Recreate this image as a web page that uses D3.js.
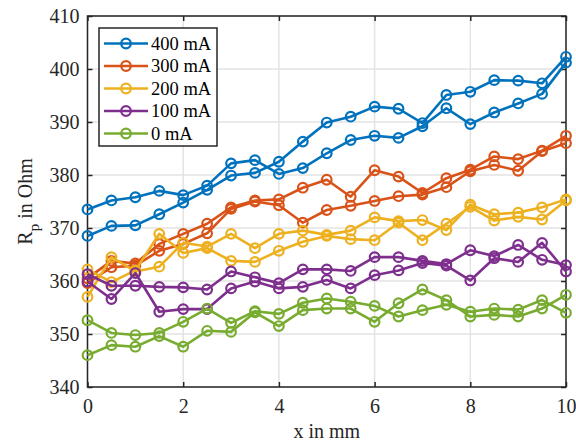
<!DOCTYPE html>
<html lang="en">
<head>
    <meta charset="UTF-8">
    <title>Rp over x</title>
    <script src="https://cdn.jsdelivr.net/npm/d3@7"></script>
</head>
<style>
    body {
        margin: 0;
        background: #fff;
    }
    .ticklabel {
        font: 20px 'Liberation Serif';
        fill: #262626;
    }
    .axlabel {
        font: 20px 'Liberation Serif';
        fill: #262626;
    }
    .legtext {
        font: 18.5px 'Liberation Serif';
        fill: #000;
    }
</style>
<body>
<div id="my_dataviz"></div>

<script>
    // x positions in mm
    var xs = [0, 0.5, 1, 1.5, 2, 2.5, 3, 3.5, 4, 4.5, 5, 5.5, 6, 6.5, 7, 7.5, 8, 8.5, 9, 9.5, 10];

    // two measurement runs per current
    var r400a = [368.5, 370.4, 370.5, 372.6, 374.8, 377.2, 379.9, 380.4, 382.5, 386.3, 389.9, 391.0, 392.9, 392.5, 389.8, 395.1, 395.7, 397.9, 397.8, 397.3, 402.3];
    var r400b = [373.5, 375.2, 375.8, 377.0, 376.2, 378.0, 382.2, 382.8, 380.2, 381.3, 384.1, 386.6, 387.4, 387.0, 389.2, 392.6, 389.6, 391.8, 393.5, 395.3, 401.2];
    var r300a = [360.5, 363.8, 363.3, 367.0, 368.9, 370.8, 373.9, 375.2, 375.4, 377.6, 379.1, 375.9, 380.9, 379.7, 376.6, 379.4, 381.0, 383.5, 383.0, 384.6, 387.4];
    var r300b = [359.6, 362.6, 362.9, 365.7, 367.0, 369.0, 373.6, 375.0, 374.3, 371.0, 373.4, 374.2, 375.1, 376.0, 376.3, 377.7, 380.7, 381.9, 380.8, 384.5, 386.0];
    var r200a = [357.0, 364.5, 361.8, 362.7, 367.2, 366.5, 368.9, 366.2, 368.9, 369.5, 368.7, 369.5, 372.0, 371.3, 371.5, 369.6, 374.4, 372.6, 372.9, 373.9, 375.4];
    var r200b = [362.2, 359.8, 362.0, 368.9, 365.3, 366.2, 363.8, 363.6, 365.7, 367.4, 368.5, 367.9, 367.7, 371.0, 367.7, 370.8, 374.0, 371.4, 372.1, 371.6, 375.2];
    var r100a = [361.3, 359.1, 359.1, 358.9, 358.8, 358.4, 361.8, 360.7, 359.6, 362.2, 362.2, 361.9, 364.5, 364.5, 363.8, 363.2, 365.8, 364.7, 366.8, 364.0, 363.0];
    var r100b = [359.9, 356.6, 361.5, 354.2, 354.7, 354.7, 358.6, 359.9, 358.6, 358.9, 360.2, 358.6, 361.1, 362.0, 363.4, 362.9, 360.1, 364.3, 363.6, 367.2, 361.8];
    var r0a   = [352.6, 350.2, 349.8, 350.2, 352.3, 354.8, 352.1, 354.3, 353.8, 355.9, 356.7, 356.1, 355.3, 353.3, 354.5, 355.5, 354.2, 354.8, 354.6, 356.4, 354.0];
    var r0b   = [346.0, 347.9, 347.6, 349.6, 347.6, 350.6, 350.4, 354.1, 351.5, 354.5, 354.8, 354.8, 352.3, 355.8, 358.4, 356.4, 353.3, 353.6, 353.3, 354.8, 357.4];

    var legend_labels = ["400 mA", "300 mA", "200 mA", "100 mA", "0 mA"];
    var runs = [[r400a, r400b], [r300a, r300b], [r200a, r200b], [r100a, r100b], [r0a, r0b]];
    var xTicks = [0, 2, 4, 6, 8, 10];
    var yTicks = [340, 350, 360, 370, 380, 390, 400, 410];

    // matlab default colour order
    var colors = ["#0072BD", "#D95319", "#EDB120", "#7E2F8E", "#77AC30"];

    var W = 576, H = 444;
    var pl = 87.5, pr = 566, pt = 16, pb = 387;
    var lw = 2.6, mr = 4.8, mw = 2.2;

    var svg = d3.select("#my_dataviz")
        .append("svg")
        .attr("width", W)
        .attr("height", H);

    var x = d3.scaleLinear().domain([0, 10]).range([pl, pr]);
    var y = d3.scaleLinear().domain([340, 410]).range([pb, pt]);

    // grid
    svg.append("g")
        .selectAll("line")
        .data(xTicks)
        .enter()
        .append("line")
        .attr("x1", d => x(d)).attr("x2", d => x(d))
        .attr("y1", pt).attr("y2", pb)
        .style("stroke", "#e3e3e3")
        .style("stroke-width", 1.5);
    svg.append("g")
        .selectAll("line")
        .data(yTicks)
        .enter()
        .append("line")
        .attr("x1", pl).attr("x2", pr)
        .attr("y1", d => y(d)).attr("y2", d => y(d))
        .style("stroke", "#e3e3e3")
        .style("stroke-width", 1.5);

    // axes, ticks inward on all four sides
    var axisStyle = function(g) {
        g.select(".domain").remove();
        g.selectAll(".tick line").style("stroke", "#262626").style("stroke-width", 1.5);
        g.selectAll(".tick text").attr("class", "ticklabel").attr("fill", null);
    };
    svg.append("g")
        .attr("transform", "translate(0," + pb + ")")
        .call(d3.axisBottom(x).tickValues(xTicks).tickSize(-5).tickPadding(12))
        .call(axisStyle);
    svg.append("g")
        .attr("transform", "translate(0," + pt + ")")
        .call(d3.axisTop(x).tickValues(xTicks).tickSize(-5).tickFormat(""))
        .call(axisStyle);
    svg.append("g")
        .attr("transform", "translate(" + pl + ",0)")
        .call(d3.axisLeft(y).tickValues(yTicks).tickSize(-5).tickPadding(8))
        .call(axisStyle);
    svg.append("g")
        .attr("transform", "translate(" + pr + ",0)")
        .call(d3.axisRight(y).tickValues(yTicks).tickSize(-5).tickFormat(""))
        .call(axisStyle);

    svg.append("rect")
        .attr("x", pl).attr("y", pt)
        .attr("width", pr - pl).attr("height", pb - pt)
        .style("fill", "none")
        .style("stroke", "#262626")
        .style("stroke-width", 1.5);

    // lines with open circles
    var line = d3.line()
        .x((d, i) => x(xs[i]))
        .y(d => y(d));

    runs.forEach(function(pair, k) {
        pair.forEach(function(vals) {
            var g = svg.append("g");
            g.append("path")
                .attr("d", line(vals))
                .style("fill", "none")
                .style("stroke", colors[k])
                .style("stroke-width", lw)
                .style("stroke-linejoin", "round");
            g.selectAll("circle")
                .data(vals)
                .enter()
                .append("circle")
                .attr("cx", (d, i) => x(xs[i]))
                .attr("cy", d => y(d))
                .attr("r", mr)
                .style("fill", "none")
                .style("stroke", colors[k])
                .style("stroke-width", mw);
        });
    });

    // axis labels
    svg.append("text")
        .attr("x", (pl + pr) / 2)
        .attr("y", 438)
        .style("text-anchor", "middle")
        .attr("class", "axlabel")
        .text("x in mm");

    var ylab = svg.append("text")
        .attr("transform", "translate(32," + ((pt + pb) / 2) + ") rotate(-90)")
        .style("text-anchor", "middle")
        .attr("class", "axlabel");
    ylab.append("tspan").text("R");
    ylab.append("tspan").attr("dy", 7).style("font-size", "15px").text("p");
    ylab.append("tspan").attr("dy", -7).text(" in Ohm");

    // legend
    var legend = svg.append("g").attr("transform", "translate(99,28)");
    legend.append("rect")
        .attr("width", 118).attr("height", 118)
        .style("fill", "#fff")
        .style("stroke", "#262626")
        .style("stroke-width", 1.5);
    var rows = legend.selectAll("g")
        .data(legend_labels)
        .enter()
        .append("g")
        .attr("transform", (d, i) => "translate(0," + (15.5 + i * 22.5) + ")");
    rows.append("line")
        .attr("x1", 5).attr("x2", 49)
        .style("stroke", (d, i) => colors[i])
        .style("stroke-width", lw);
    rows.append("circle")
        .attr("cx", 27).attr("r", mr)
        .style("fill", "none")
        .style("stroke", (d, i) => colors[i])
        .style("stroke-width", mw);
    rows.append("text")
        .attr("x", 52).attr("y", 6)
        .attr("class", "legtext")
        .text(d => d);
</script>
</body>
</html>
